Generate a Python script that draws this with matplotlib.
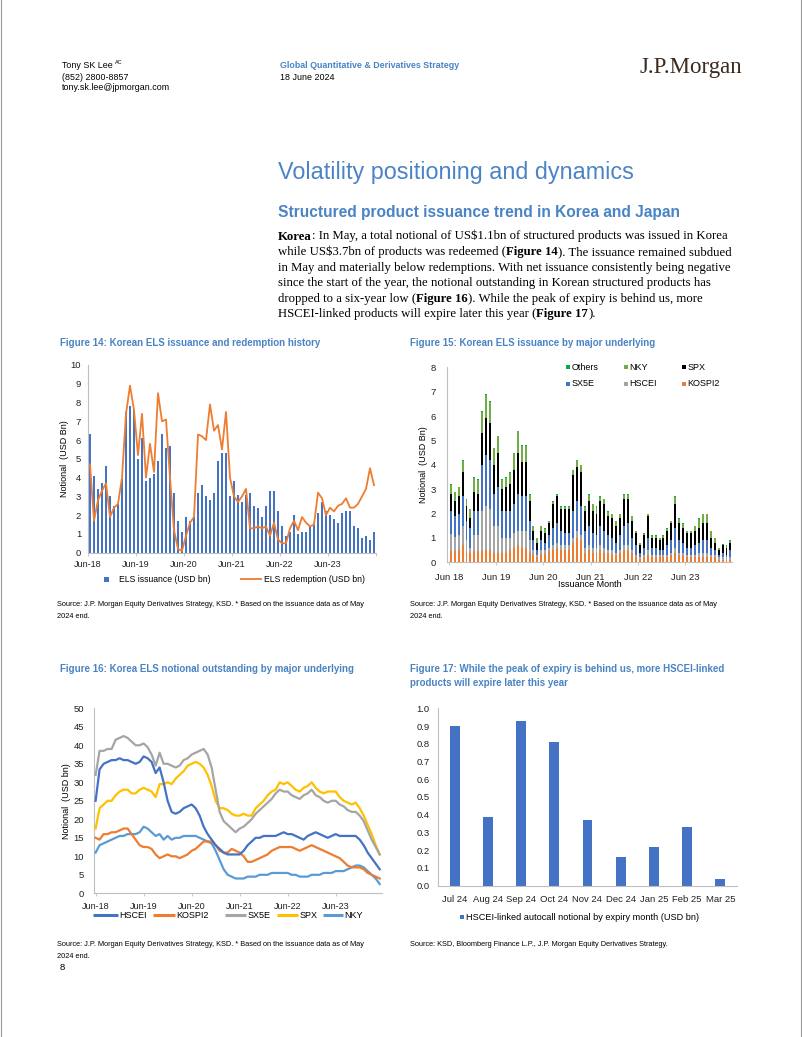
import numpy as np
import matplotlib
matplotlib.use("Agg")
from matplotlib import pyplot as plt
from matplotlib import font_manager
from matplotlib.patches import Rectangle
from matplotlib.lines import Line2D

plt.rcParams['text.parse_math'] = False

# ---- data -------------------------------------------------------------
# Figure 14: monthly Jun-18 .. May-24 (USD bn)
els_issuance = [6.3, 4.1, 3.4, 3.7, 4.6, 3.0, 2.5, 2.6, 3.9, 7.5, 7.8, 7.6,
                5.0, 6.1, 3.8, 4.0, 4.2, 4.9, 6.3, 5.6, 5.7, 3.2, 1.7, 1.1,
                1.9, 1.7, 1.9, 3.2, 3.6, 3.0, 2.8, 3.2, 4.9, 5.3, 5.3, 3.0,
                3.8, 3.1, 2.7, 3.1, 3.2, 2.5, 2.4, 1.9, 2.5, 3.3, 3.3, 2.2,
                1.4, 0.9, 1.1, 2.0, 1.0, 1.1, 1.1, 1.4, 1.6, 2.1, 2.7, 2.2,
                2.0, 1.8, 1.6, 2.1, 2.2, 2.2, 1.4, 1.3, 0.8, 0.9, 0.7, 1.1]
els_redemption = [4.7, 1.7, 2.8, 3.3, 3.7, 1.9, 2.4, 2.6, 4.0, 7.4, 8.9, 7.6,
                  5.2, 7.4, 4.0, 5.8, 4.3, 8.5, 7.0, 7.1, 4.0, 1.2, 0.2, 0.1,
                  0.9, 1.6, 1.9, 6.3, 6.2, 6.0, 7.9, 6.5, 6.8, 5.5, 7.5, 4.0,
                  3.0, 2.7, 3.0, 3.4, 1.3, 1.3, 1.4, 1.3, 1.4, 0.9, 1.6, 0.7,
                  0.5, 0.5, 1.3, 1.7, 1.2, 1.9, 1.6, 1.4, 1.5, 3.2, 2.9, 2.0,
                  2.4, 2.2, 2.5, 2.6, 2.9, 2.4, 2.4, 2.6, 3.0, 3.4, 4.5, 3.6]
fig14_ticks = ['Jun-18', 'Jun-19', 'Jun-20', 'Jun-21', 'Jun-22', 'Jun-23']

# Figure 15: issuance by underlying (USD bn), Jun 18 .. May 24
iss_kospi2 = [.45, .45, .50, .70, .45, .40, .45, .45, .45, .50, .50, .40,
              .40, .40, .40, .50, .60, .70, .60, .60, .40, .30, .20, .35,
              .35, .45, .50, .60, .50, .50, .50, .80, 1.0, .90, .40, .50,
              .40, .40, .50, .40, .40, .30, .30, .40, .50, .50, .40, .20,
              .15, .20, .30, .20, .20, .20, .20, .20, .30, .40, .30, .30,
              .20, .20, .20, .20, .20, .20, .20, .20, .10, .10, .10, .10]
iss_hscei = [.70, .60, .60, .80, .45, .20, .65, .65, 1.65, 1.8, 1.7, 1.1,
             1.1, .60, .60, .50, .60, .60, .70, .70, .50, .20, .10, .15,
             .15, .15, .20, .20, .20, .20, .20, .20, .30, .20, .20, .20,
             .20, .20, .20, .20, .10, .20, .10, .10, .20, .20, .10, .10,
             .05, .10, .20, .10, .10, .10, .10, .10, .10, .20, .10, .10,
             .10, .10, .10, .20, .20, .20, .10, .10, .10, .10, .10, .10]
iss_sx5e = [.95, .85, .90, 1.2, .80, .80, 1.0, 1.0, 1.9, 2.1, 2.0, 1.3,
            1.6, 1.1, 1.1, 1.1, 1.2, 1.5, 1.4, 1.4, .80, .40, .20, .40,
            .30, .50, .70, .80, .60, .50, .50, 1.1, 1.2, 1.2, .70, .80,
            .60, .50, .80, .70, .60, .50, .40, .60, .80, .90, .50, .40,
            .20, .30, .50, .30, .30, .20, .20, .40, .50, .80, .50, .40,
            .30, .30, .40, .40, .50, .50, .30, .20, .10, .20, .10, .30]
iss_spx = [.70, .60, .70, 1.0, .60, .40, .80, .70, 1.3, 1.5, 1.5, 1.2,
           1.4, .90, 1.0, 1.1, 1.4, 1.7, 1.4, 1.4, .80, .40, .30, .40,
           .40, .50, 1.0, 1.1, .90, 1.0, 1.0, 1.5, 1.4, 1.4, .80, 1.0,
           .90, .90, 1.0, 1.1, .80, .80, .70, .70, 1.1, 1.0, .70, .50,
           .30, .50, .90, .40, .40, .40, .50, .60, .70, 1.0, .70, .60,
           .60, .60, .60, .60, .70, .70, .40, .30, .20, .30, .30, .30]
iss_nky = [.37, .37, .37, .47, .27, .37, .57, .57, .87, .97, .87, .67,
           .67, .37, .37, .47, .67, .87, .67, .67, .27, .18, .18, .18,
           .18, .08, .08, .08, .08, .08, .08, .18, .28, .28, .18, .28,
           .28, .28, .18, .18, .18, .18, .18, .18, .18, .18, .18, .08,
           .08, .08, .08, .08, .08, .08, .08, .08, .08, .28, .18, .18,
           .08, .08, .18, .38, .38, .38, .28, .18, .08, .03, .08, .08]
iss_others = [.03] * 21 + [.02] * 47 + [0, .02, .02, .02]
fig15_ticks = ['Jun 18', 'Jun 19', 'Jun 20', 'Jun 21', 'Jun 22', 'Jun 23']

# Figure 16: notional outstanding (USD bn), Jun-18 .. May-24
out_hscei = [25, 33.5, 35, 35.5, 36, 36, 36.5, 36, 36, 35.5, 35, 35.5,
             37, 36.5, 35.5, 32.5, 34, 30, 25, 22, 21.5, 22, 23, 23.5,
             24, 23, 21, 18, 16, 14.5, 13, 12, 11, 10.5, 10.5, 10.5,
             10.5, 11.5, 13, 14, 15, 15, 15.5, 15.5, 15.5, 15.5, 16, 16.5,
             16, 16, 15.5, 15, 14.5, 15.5, 16, 16.5, 16, 15.5, 15, 15.5,
             16, 15.5, 15.5, 15.5, 15.5, 15.5, 14.5, 13, 11, 9.5, 8, 6.5]
out_kospi2 = [15, 14.5, 16, 16, 16.5, 16.5, 17, 17.5, 17.5, 16, 14.5, 13,
              12.5, 12.5, 12, 10.5, 9.5, 10, 10.5, 10, 10, 9.5, 10, 10.5,
              11.5, 12, 13, 14, 14, 14, 13, 11.5, 11, 11, 12, 11.5,
              11, 10, 8.5, 8.5, 9, 9.5, 10, 10.5, 11.5, 12, 12.5, 12.5,
              12.5, 12.5, 12, 11.5, 12, 12.5, 13, 12.5, 12, 11.5, 11, 10.5,
              10, 9.5, 8.5, 7.5, 7, 7, 7, 6.5, 5.5, 5, 4.5, 4]
out_sx5e = [32, 38.5, 38.5, 39, 39, 41.5, 42, 42.5, 42, 41, 40, 40,
            40.5, 39.5, 37.5, 34.5, 38, 35, 35, 34.5, 34, 34.5, 36, 36.5,
            37.5, 38, 38.5, 39, 37.5, 34, 28, 22, 19.5, 18.5, 17.5, 16.5,
            17.5, 18, 19, 20, 21.5, 22.5, 23.5, 24.5, 25.5, 27, 28, 27.5,
            27.5, 26.5, 26, 25.5, 26.5, 27, 28, 26.5, 26, 25, 24.5, 25,
            25, 24, 23.5, 22.5, 22, 22, 21, 19.5, 17, 14.5, 12.5, 10.5]
out_spx = [17.5, 23, 24, 25, 25, 26.5, 27.5, 28, 28, 27, 27, 28,
           28.5, 28, 27.5, 26, 29.5, 29.5, 30, 29.5, 31, 32, 33, 34.5,
           35, 35.5, 35, 34, 32, 29, 25, 23, 23, 22.5, 21.5, 21,
           21, 21.5, 21, 21, 23, 24, 25, 26.5, 27.5, 28, 30, 29.5,
           30, 29, 28, 27.5, 28.5, 29, 30, 28.5, 27.5, 27, 27.5, 27.5,
           27.5, 26, 25, 24.5, 24, 24.5, 23, 21, 18.5, 16, 13, 10.5]
out_nky = [11, 13, 13.5, 14, 14.5, 15, 15.5, 15.5, 16, 16, 16, 16.5,
           18, 17.5, 16.5, 15.5, 16, 14.5, 15.5, 14.5, 15, 15, 15.5, 15.5,
           15.5, 15.5, 15, 14.5, 14, 13.5, 11.5, 9, 6.5, 5, 4.5, 4,
           4, 4, 4.5, 4.5, 4.5, 5, 5, 5, 5.5, 5.5, 5.5, 5.5,
           5.5, 5, 5, 4.5, 4.5, 4.5, 5, 5, 5, 5.5, 5.5, 5.5,
           6, 6, 6, 6.5, 7, 7.5, 7.5, 7, 6, 5, 4, 2.5]

# Figure 17: HSCEI-linked autocall notional by expiry month (USD bn)
expiry_months = ['Jul 24', 'Aug 24', 'Sep 24', 'Oct 24', 'Nov 24',
                 'Dec 24', 'Jan 25', 'Feb 25', 'Mar 25']
expiry_notional = [0.90, 0.39, 0.93, 0.81, 0.37, 0.16, 0.22, 0.33, 0.04]

# ---- page setup -------------------------------------------------------
W, H = 802, 1037
fig = plt.figure(figsize=(W / 100, H / 100), dpi=100)
fig.patch.set_facecolor('white')

names = {f.name for f in font_manager.fontManager.ttflist}
SANS = 'Liberation Sans'
NARROW = 'Liberation Sans Narrow' if 'Liberation Sans Narrow' in names else SANS
SERIF = 'Liberation Serif'
BLUE_T = '#4A84C4'
C_BLUE = '#4472C4'
C_ORANGE = '#ED7D31'
C_GREY = '#A5A5A5'
C_YELLOW = '#FFC000'
C_LBLUE = '#5B9BD5'
AXC = '#BFBFBF'
SRC = 5.35
FT = 7.0


def rect(l, t, r, b):
    return [l / W, 1 - b / H, (r - l) / W, (b - t) / H]


def txt(x, y, s, size=6.5, family=SANS, color='black', weight='normal', **kw):
    kw.setdefault('va', 'center')
    return fig.text(x / W, 1 - y / H, s, fontsize=size, family=family,
                    color=color, fontweight=weight, **kw)


def sq(x, y, c, s=4.5):
    fig.add_artist(Rectangle(((x - s / 2) / W, 1 - (y + s / 2) / H), s / W, s / H,
                             color=c, transform=fig.transFigure, lw=0))


def hline(x0, x1, y, c, lw):
    fig.add_artist(Line2D([x0 / W, x1 / W], [1 - y / H, 1 - y / H], color=c,
                          lw=lw, transform=fig.transFigure, solid_capstyle='butt'))


renderer = fig.canvas.get_renderer()


def rich(x, y, parts, size=9.2):
    for s, b in parts:
        t = txt(x, y, s, size=size, family=SERIF, weight='bold' if b else 'normal',
                va='baseline')
        x = t.get_window_extent(renderer).x1


def style_ax(ax, size=6.8):
    for sp in ['top', 'right']:
        ax.spines[sp].set_visible(False)
    for sp in ['left', 'bottom']:
        ax.spines[sp].set_color(AXC)
        ax.spines[sp].set_linewidth(0.8)
    ax.tick_params(axis='both', colors=AXC, labelcolor='#222222', labelsize=size,
                   length=2.5, width=0.6)
    for lab in ax.get_xticklabels() + ax.get_yticklabels():
        lab.set_family(NARROW)


# page border
fig.add_artist(Line2D([0.6 / W, 0.6 / W], [0, 1], color='#999999', lw=0.8,
                      transform=fig.transFigure))
fig.add_artist(Line2D([1 - 1.2 / W, 1 - 1.2 / W], [0, 1], color='#999999', lw=0.8,
                      transform=fig.transFigure))

# ---- header -----------------------------------------------------------
t = txt(62, 66, 'Tony SK Lee', size=6.4)
txt(t.get_window_extent(renderer).x1 + 2, 63, 'AC', size=4)
txt(62, 77, '(852) 2800-8857', size=6.4)
txt(62, 87, 'tony.sk.lee@jpmorgan.com', size=6.4)
txt(280, 66, 'Global Quantitative & Derivatives Strategy', size=6.4,
    color=BLUE_T, weight='bold')
txt(280, 77, '18 June 2024', size=6.4)
txt(742, 68, 'J.P.Morgan', size=16.5, family=SERIF, color='#3B2A1E', ha='right')

txt(278, 173, 'Volatility positioning and dynamics', size=16.8, color=BLUE_T)
txt(278, 213, 'Structured product issuance trend in Korea and Japan', size=11.2,
    color=BLUE_T, weight='bold')

body = [
    [('Korea', True), (': In May, a total notional of US$1.1bn of structured products was issued in Korea', False)],
    [('while US$3.7bn of products was redeemed (', False), ('Figure 14', True),
     ('). The issuance remained subdued', False)],
    [('in May and materially below redemptions. With net issuance consistently being negative', False)],
    [('since the start of the year, the notional outstanding in Korean structured products has', False)],
    [('dropped to a six-year low (', False), ('Figure 16', True),
     ('). While the peak of expiry is behind us, more', False)],
    [('HSCEI-linked products will expire later this year (', False), ('Figure 17', True),
     (').', False)],
]
for i, parts in enumerate(body):
    rich(278, 239.5 + i * 15.55, parts)

# ---- Figure 14 --------------------------------------------------------
txt(60, 343, 'Figure 14: Korean ELS issuance and redemption history', size=FT,
    color=BLUE_T, weight='bold')
ax1 = fig.add_axes(rect(88, 365, 376, 552.7))
m = np.arange(len(els_issuance))
ax1.bar(m, els_issuance, width=0.68, color=C_BLUE, lw=0, zorder=2)
ax1.plot(m, els_redemption, color=C_ORANGE, lw=1.3, zorder=3)
ax1.set_xlim(-0.5, 71.5)
ax1.set_ylim(0, 10)
ax1.set_yticks(range(0, 11))
ax1.set_xticks(np.arange(-0.5, 72, 12))
ax1.set_xticklabels(fig14_ticks + [''])
ax1.set_ylabel('Notional  (USD Bn)', fontsize=6.5, family=NARROW, labelpad=1)
style_ax(ax1)
ax1.tick_params(axis='y', length=0, pad=5)
ax1.tick_params(axis='x', pad=3, labelsize=6.5)
sq(106, 579, C_BLUE, 5)
txt(119, 579, 'ELS issuance (USD bn)', size=6.2, family=NARROW)
hline(240, 262, 579, C_ORANGE, 1.3)
txt(264, 579, 'ELS redemption (USD bn)', size=6.2, family=NARROW)
txt(57, 605, 'Source: J.P. Morgan Equity Derivatives Strategy, KSD. * Based on the issuance data as of May',
    size=SRC)
txt(57, 617, '2024 end.', size=SRC)

# ---- Figure 15 --------------------------------------------------------
txt(410, 343, 'Figure 15: Korean ELS issuance by major underlying', size=FT,
    color=BLUE_T, weight='bold')
ax2 = fig.add_axes(rect(446.8, 367.3, 732, 562.3))
m2 = np.arange(len(iss_kospi2))
stack = [('KOSPI2', iss_kospi2, C_ORANGE), ('HSCEI', iss_hscei, C_GREY),
         ('SX5E', iss_sx5e, C_BLUE), ('SPX', iss_spx, 'black'),
         ('NKY', iss_nky, '#70AD47'), ('Others', iss_others, '#00B050')]
bottom = np.zeros(len(m2))
for name, vals, col in stack:
    ax2.bar(m2, vals, bottom=bottom, width=0.5, color=col, lw=0, zorder=2)
    bottom += np.array(vals)
ax2.set_xlim(-1, 71.4)
ax2.set_ylim(0, 8)
ax2.set_yticks(range(0, 9))
ax2.set_xticks(np.arange(-0.5, 72, 12)[:6])
ax2.set_xticklabels(fig15_ticks)
ax2.set_ylabel('Notional  (USD Bn)', fontsize=6.5, family=NARROW, labelpad=2)
ax2.set_xlabel('Issuance Month', fontsize=6.5, family=NARROW, labelpad=-1)
style_ax(ax2)
ax2.tick_params(axis='y', length=0, pad=8)
ax2.tick_params(axis='x', pad=5)
leg15 = [(568, 367, '#00B050', 'Others'), (626, 367, '#70AD47', 'NKY'),
         (684, 367, 'black', 'SPX'), (568, 384, C_BLUE, 'SX5E'),
         (626, 384, C_GREY, 'HSCEI'), (684, 384, C_ORANGE, 'KOSPI2')]
for x, y, c, lab in leg15:
    sq(x, y, c, 4)
    txt(x + 3.5, y, lab, size=6.5, family=NARROW)
txt(410, 605, 'Source: J.P. Morgan Equity Derivatives Strategy, KSD. * Based on the issuance data as of May',
    size=SRC)
txt(410, 617, '2024 end.', size=SRC)

# ---- Figure 16 --------------------------------------------------------
txt(60, 669, 'Figure 16: Korea ELS notional outstanding by major underlying', size=FT,
    color=BLUE_T, weight='bold')
ax3 = fig.add_axes(rect(94, 708.3, 381.7, 893.3))
m3 = np.arange(len(out_hscei))
series16 = [('HSCEI', out_hscei, C_BLUE), ('KOSPI2', out_kospi2, C_ORANGE),
            ('SX5E', out_sx5e, C_GREY), ('SPX', out_spx, C_YELLOW),
            ('NKY', out_nky, C_LBLUE)]
for name, vals, col in series16[::-1]:
    ax3.plot(m3, vals, color=col, lw=1.6, zorder=3)
ax3.set_xlim(-0.4, 71.5)
ax3.set_ylim(0, 50)
ax3.set_yticks(range(0, 51, 5))
ax3.set_xticks(np.arange(0, 72, 12))
ax3.set_xticklabels(fig14_ticks)
ax3.set_ylabel('Notional  (USD bn)', fontsize=6.5, family=NARROW, labelpad=2)
style_ax(ax3)
ax3.tick_params(axis='y', length=0, pad=7)
ax3.tick_params(axis='x', pad=4, labelsize=6.5)
leg16 = [(93, 118, 'HSCEI', C_BLUE), (153, 175, 'KOSPI2', C_ORANGE),
         (225, 246, 'SX5E', C_GREY), (277, 298, 'SPX', C_YELLOW),
         (323, 343, 'NKY', C_LBLUE)]
for x0, x1, lab, col in leg16:
    hline(x0, x1, 915, col, 2.2)
    txt(x1 + 1.5, 915, lab, size=6.5, family=NARROW)
txt(57, 944, 'Source: J.P. Morgan Equity Derivatives Strategy, KSD. * Based on the issuance data as of May',
    size=SRC)
txt(57, 957, '2024 end.', size=SRC)

# ---- Figure 17 --------------------------------------------------------
txt(410, 669, 'Figure 17: While the peak of expiry is behind us, more HSCEI-linked',
    size=FT, color=BLUE_T, weight='bold')
txt(410, 683, 'products will expire later this year', size=FT, color=BLUE_T,
    weight='bold')
ax4 = fig.add_axes(rect(438, 708.3, 737, 885.7))
ax4.bar(np.arange(len(expiry_notional)), expiry_notional, width=0.3,
        color=C_BLUE, lw=0, zorder=2)
ax4.set_xlim(-0.5, 8.5)
ax4.set_ylim(0, 1.0)
ax4.set_yticks(np.arange(0, 1.01, 0.1))
ax4.set_yticklabels(['%.1f' % v for v in np.arange(0, 1.01, 0.1)])
ax4.set_xticks(range(len(expiry_months)))
ax4.set_xticklabels(expiry_months)
style_ax(ax4, size=6.8)
ax4.tick_params(axis='y', length=0, pad=6)
ax4.tick_params(axis='x', length=0, pad=7)
sq(462, 917, C_BLUE, 4)
txt(466, 917, 'HSCEI-linked autocall notional by expiry month (USD bn)', size=6.6,
    family=NARROW)
txt(410, 944, 'Source: KSD, Bloomberg Finance L.P., J.P. Morgan Equity Derivatives Strategy.',
    size=SRC)

txt(60, 968, '8', size=6.8)

fig.savefig('out.png', dpi=100)
